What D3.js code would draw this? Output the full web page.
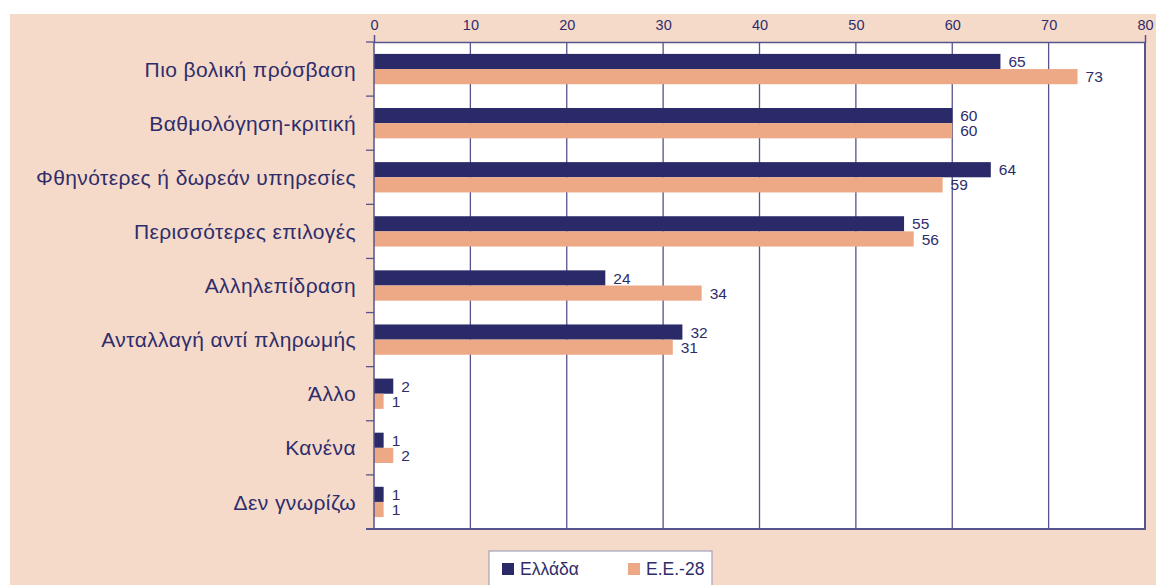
<!DOCTYPE html>
<html>
<head>
<meta charset="utf-8">
<script src="https://cdnjs.cloudflare.com/ajax/libs/d3/7.8.5/d3.min.js"></script>
<style>
  body { margin: 0; background: #fff; }
  svg { display: block; font-family: "Liberation Sans", Arial, sans-serif; }
</style>
</head>
<body>
<div id="chart"></div>
<script>

const categories = ["Πιο βολική πρόσβαση", "Βαθμολόγηση-κριτική", "Φθηνότερες ή δωρεάν υπηρεσίες",
    "Περισσότερες επιλογές", "Αλληλεπίδραση", "Ανταλλαγή αντί πληρωμής", "Άλλο", "Κανένα", "Δεν γνωρίζω"];
const seriesNames = ["Ελλάδα", "Ε.Ε.-28"];
const greece = [65, 60, 64, 55, 24, 32, 2, 1, 1];
const eu28 = [73, 60, 59, 56, 34, 31, 1, 2, 1];
const xTicks = [0, 10, 20, 30, 40, 50, 60, 70, 80];

const W = 1156, H = 585;
const pLeft = 374, pRight = 1145, pTop = 42, pBottom = 529;
const navy = "#2b2a69", orange = "#eda886", ink = "#2e2d6b", grid = "#55548c";

const svg = d3.select("#chart")
    .append("svg")
    .attr("width", W)
    .attr("height", H);

// peach panel
svg.append("rect")
    .attr("x", 10).attr("y", 14)
    .attr("width", W - 10).attr("height", H - 14)
    .attr("fill", "#f6dac9");

const data = categories.map((c, i) => ({cat: c, values: [greece[i], eu28[i]]}));

const x = d3.scaleLinear().domain([0, 80]).range([pLeft, pRight]);
const y = d3.scaleBand().domain(categories).range([pTop, pBottom]).paddingInner(0.44).paddingOuter(0.22);
const ySub = d3.scaleBand().domain(seriesNames).range([0, y.bandwidth()]);
const color = d3.scaleOrdinal().domain(seriesNames).range([navy, orange]);

// plot area
svg.append("rect")
    .attr("x", pLeft).attr("y", pTop)
    .attr("width", pRight - pLeft).attr("height", pBottom - pTop)
    .attr("fill", "#fff");

// gridlines
svg.append("g")
    .selectAll("line")
    .data(xTicks.slice(1, -1))
    .join("line")
    .attr("x1", d => x(d)).attr("x2", d => x(d))
    .attr("y1", pTop).attr("y2", pBottom)
    .attr("stroke", grid)
    .attr("stroke-width", 1.3);

// bars
svg.append("g")
    .selectAll("g")
    .data(data)
    .join("g")
    .attr("transform", d => `translate(0,${y(d.cat)})`)
    .selectAll("rect")
    .data(d => d.values.map((v, i) => ({key: seriesNames[i], v: v})))
    .join("rect")
    .attr("x", x(0))
    .attr("y", d => ySub(d.key))
    .attr("width", d => x(d.v) - x(0))
    .attr("height", ySub.bandwidth())
    .attr("fill", d => color(d.key));

// value labels
svg.append("g")
    .selectAll("g")
    .data(data)
    .join("g")
    .attr("transform", d => `translate(0,${y(d.cat)})`)
    .selectAll("text")
    .data(d => d.values.map((v, i) => ({key: seriesNames[i], v: v})))
    .join("text")
    .attr("x", d => x(d.v) + 8)
    .attr("y", d => ySub(d.key) + ySub.bandwidth() / 2)
    .attr("dy", "0.36em")
    .attr("fill", ink)
    .attr("font-size", 15.5)
    .text(d => d.v);

// top axis
const topAxis = svg.append("g")
    .attr("transform", `translate(0,${pTop})`)
    .call(d3.axisTop(x).tickValues(xTicks).tickSizeInner(0).tickSizeOuter(7).tickPadding(12));
topAxis.select(".domain").attr("stroke", grid).attr("stroke-width", 1.5);
topAxis.selectAll("text").attr("fill", ink).attr("font-size", 14.5).attr("font-family", "Liberation Sans, Arial, sans-serif");

// left axis line and ticks at category boundaries
const bounds = categories.map(c => y(c) - y.step() * y.paddingInner() / 2);
svg.append("line")
    .attr("x1", pLeft).attr("x2", pLeft)
    .attr("y1", pTop).attr("y2", pBottom)
    .attr("stroke", grid).attr("stroke-width", 1.5);
svg.append("g")
    .selectAll("line")
    .data(bounds)
    .join("line")
    .attr("x1", pLeft - 8).attr("x2", pLeft)
    .attr("y1", d => d).attr("y2", d => d)
    .attr("stroke", grid).attr("stroke-width", 1.3);

// right and bottom border
svg.append("path")
    .attr("d", `M${pRight},${pTop}V${pBottom}H${pLeft - 8}`)
    .attr("fill", "none")
    .attr("stroke", grid)
    .attr("stroke-width", 2);

// category labels
svg.append("g")
    .selectAll("text")
    .data(categories)
    .join("text")
    .attr("x", 356)
    .attr("y", d => y(d) + y.bandwidth() / 2)
    .attr("dy", "0.36em")
    .attr("text-anchor", "end")
    .attr("fill", ink)
    .attr("font-size", 21)
    .attr("letter-spacing", 0.4)
    .text(d => d);

// legend
svg.append("rect")
    .attr("x", 489).attr("y", 551)
    .attr("width", 223).attr("height", 50)
    .attr("fill", "#fff")
    .attr("stroke", "#a3a2b8")
    .attr("stroke-width", 1.2);

const legendX = [502, 628];
seriesNames.forEach((s, i) => {
    svg.append("rect")
        .attr("x", legendX[i]).attr("y", 563)
        .attr("width", 12).attr("height", 12)
        .attr("fill", color(s));
    svg.append("text")
        .attr("x", legendX[i] + 18).attr("y", 569)
        .attr("dy", "0.36em")
        .attr("fill", ink)
        .attr("font-size", 17.5)
        .text(s);
});

</script>
</body>
</html>
